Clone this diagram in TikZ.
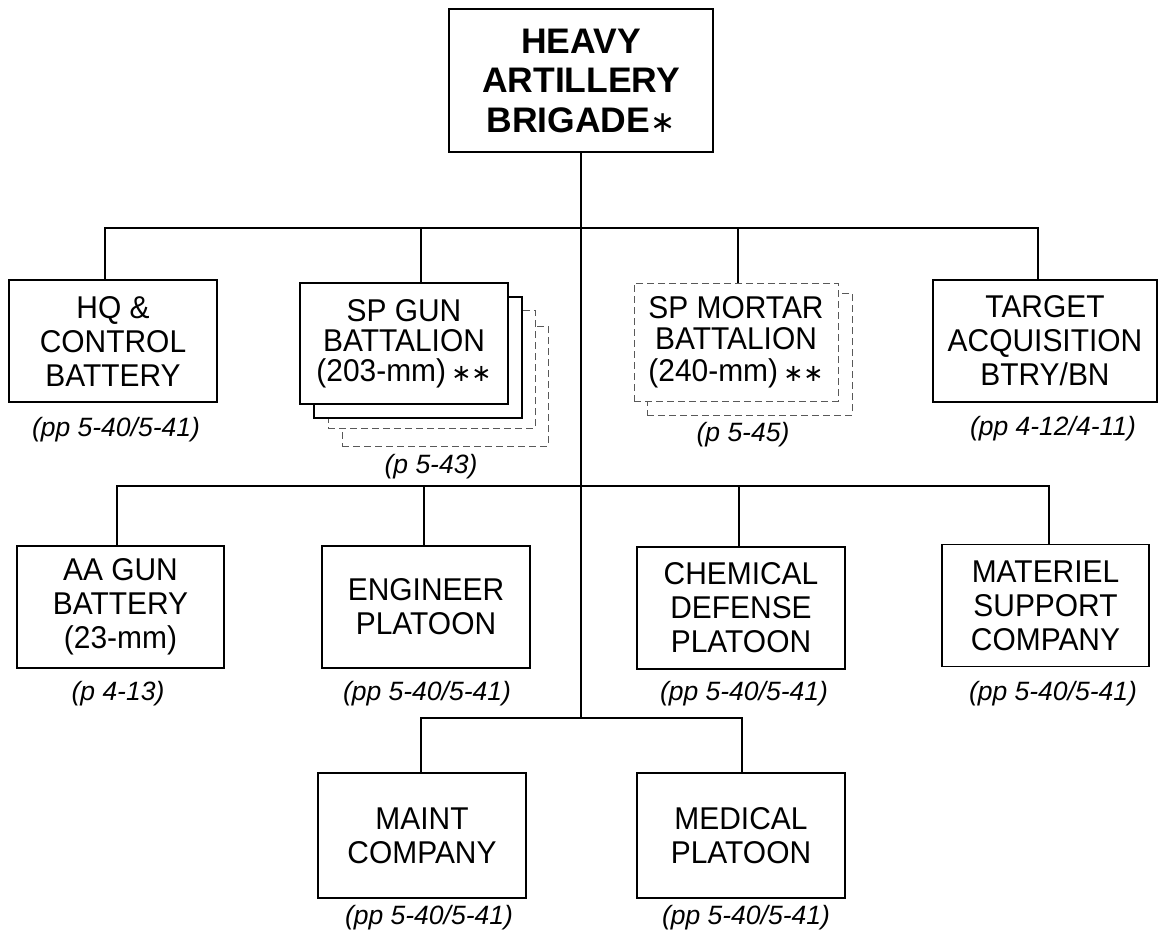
\documentclass[tikz,border=0pt]{standalone}
\usepackage{fontspec}
\setmainfont{Liberation Sans}
\newfontfamily\boxfont{Liberation Sans}[FakeStretch=0.95]
\newfontfamily\djv{DejaVu Sans}
\begin{document}
\begin{tikzpicture}[x=1pt,y=-1pt,
  conn/.style={line width=1.6pt},
  unit/.style={draw, line width=1.6pt, fill=white, minimum width=208pt, minimum height=122pt,
    inner sep=0pt, align=center, font=\boxfont\fontsize{31.5}{34}\selectfont},
  ghost/.style={draw=black!65, dash pattern=on 7pt off 4pt, line width=1pt, fill=white,
    inner sep=0pt, align=center, font=\boxfont\fontsize{31.5}{31.5}\selectfont},
  ref/.style={inner sep=0pt, font=\itshape\fontsize{26.5}{30}\selectfont}]
\useasboundingbox (0,0) rectangle (1159,935);
\fill[white] (0,0) rectangle (1159,935);

% top
\node[unit, minimum width=264pt, minimum height=143pt, font=\bfseries\fontsize{35.5}{39.5}\selectfont]
  (top) at (581,80.5) {HEAVY\\ARTILLERY\\BRIGADE{\mdseries\djv\fontsize{30}{30}\selectfont ∗}};

% row 1
\node[unit] (hq) at (113,341) {HQ \&\\CONTROL\\BATTERY};
\node[ghost, minimum width=206pt, minimum height=120pt] (sp4) at (445,386) {};
\node[ghost, minimum width=207pt, minimum height=118pt] (sp3) at (431.5,369) {};
\node[unit, minimum height=121pt] (sp2) at (418,357.5) {};
\node[unit, minimum height=121pt, font=\boxfont\fontsize{31.5}{30}\selectfont] (spgun) at (404,343.5) {SP GUN\\BATTALION\\(203-mm)\,{\djv\fontsize{24}{24}\selectfont ∗∗}};
\node[ghost, minimum width=205pt, minimum height=122pt] (mo2) at (749.5,354) {};
\node[ghost, minimum width=204pt, minimum height=118pt] (mortar) at (736,342) {SP MORTAR\\BATTALION\\(240-mm)\,{\djv\fontsize{24}{24}\selectfont ∗∗}};
\node[unit, minimum width=224pt] (ta) at (1045,341) {TARGET\\ACQUISITION\\BTRY/BN};

\node[ref] (hql) at (116,430) {(pp 5-40/5-41)};
\node[ref] (spl) at (431,467) {(p 5-43)};
\node[ref] (mol) at (743,435) {(p 5-45)};
\node[ref] (tal) at (1053,429) {(pp 4-12/4-11)};

% row 2
\node[unit, minimum width=207pt] (aa) at (120.5,607) {AA GUN\\BATTERY\\(23-mm)};
\node[unit] (eng) at (426,607) {ENGINEER\\PLATOON};
\node[unit] (chem) at (741,608) {CHEMICAL\\DEFENSE\\PLATOON};
\node[unit, minimum width=207pt] (mat) at (1045.5,605.5) {MATERIEL\\SUPPORT\\COMPANY};

\node[ref] (aal) at (118,694) {(p 4-13)};
\node[ref] (engl) at (427,694) {(pp 5-40/5-41)};
\node[ref] (cheml) at (744,694) {(pp 5-40/5-41)};
\node[ref] (matl) at (1053,694) {(pp 5-40/5-41)};

% row 3
\node[unit, minimum height=125pt] (maint) at (422,835.5) {MAINT\\COMPANY};
\node[unit, minimum height=125pt] (med) at (741,835.5) {MEDICAL\\PLATOON};

\node[ref] (maintl) at (429,918) {(pp 5-40/5-41)};
\node[ref] (medl) at (746,918) {(pp 5-40/5-41)};

% bus coordinates
\coordinate (hqc) at (105,228);
\coordinate (spc) at (421,228);
\coordinate (j1) at (581,228);
\coordinate (moc) at (738,228);
\coordinate (tac) at (1038,228);
\coordinate (aac) at (117,486);
\coordinate (engc) at (424,486);
\coordinate (chc) at (739,486);
\coordinate (matc) at (1049,486);
\coordinate (mac) at (421,718);
\coordinate (j3) at (581,718);
\coordinate (mec) at (742,718);

% connectors
\draw[conn] (top.south) -- (j3);
\draw[conn] (hq.north -| hqc) -- (hqc) -- (tac) -- (ta.north -| tac);
\draw[conn] (spc) -- (spc |- spgun.north);
\draw[conn] (moc) -- (moc |- mortar.north);
\draw[conn] (aa.north -| aac) -- (aac) -- (matc) -- (mat.north -| matc);
\draw[conn] (engc) -- (engc |- eng.north);
\draw[conn] (chc) -- (chc |- chem.north);
\draw[conn] (maint.north -| mac) -- (mac) -- (mec) -- (med.north -| mec);
\end{tikzpicture}
\end{document}
